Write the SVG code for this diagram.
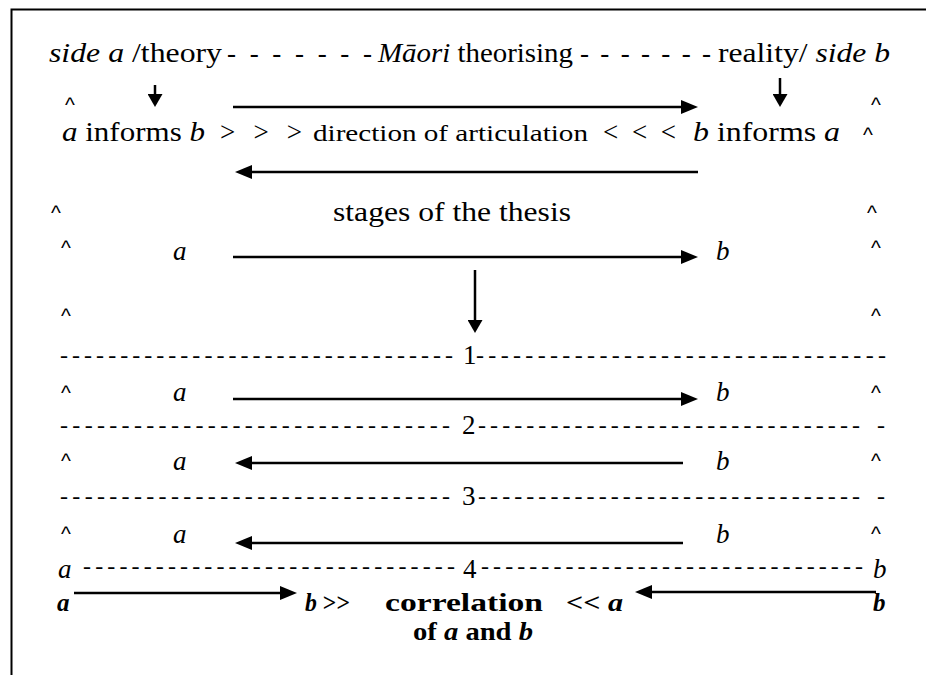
<svg xmlns="http://www.w3.org/2000/svg" width="926" height="675" viewBox="0 0 926 675">
<style>
text{font-family:"Liberation Serif",Tinos,"Times New Roman",Times,"Nimbus Roman",FreeSerif,serif;font-size:27px;fill:#000}
.i{font-style:italic}
.b{font-weight:bold;font-size:25px}
.sm{font-size:24px}
.d{font-size:24px}
.c{font-family:"Liberation Sans",Arimo,Arial,sans-serif;font-size:21px;text-anchor:middle}
.ln{stroke:#000;stroke-width:2.5;fill:none}
.frame{stroke:#000;stroke-width:2;fill:none}
</style>
<defs>
<marker id="ah" markerUnits="userSpaceOnUse" markerWidth="18" markerHeight="15" refX="7" refY="7" orient="auto">
<path d="M0,0 L17,7 L0,14 z" fill="#000"/>
</marker>
<marker id="av" markerUnits="userSpaceOnUse" markerWidth="14" markerHeight="15" refX="3" refY="7.5" orient="auto">
<path d="M0,0 L13,7.5 L0,15 z" fill="#000"/>
</marker>
</defs>
<rect width="926" height="675" fill="#fff"/>
<path class="frame" d="M11.5,675 V9.5 H926"/>

<g id="row-top">
<text x="49" y="62" textLength="173" lengthAdjust="spacingAndGlyphs"><tspan class="i">side a</tspan> /theory</text>
<text x="227" y="62" textLength="145" lengthAdjust="spacing">- - - - - - -</text>
<text x="378" y="62" textLength="195" lengthAdjust="spacingAndGlyphs"><tspan class="i">Māori</tspan> theorising</text>
<text x="580" y="62" textLength="131" lengthAdjust="spacing">- - - - - - -</text>
<text x="718" y="62" textLength="172" lengthAdjust="spacingAndGlyphs">reality/ <tspan class="i">side b</tspan></text>
</g>

<g id="carets">
<text class="c" x="70" y="112">^</text><text class="c" x="876" y="112">^</text>
<text class="c" x="868" y="142">^</text>
<text class="c" x="56" y="220">^</text><text class="c" x="872" y="220">^</text>
<text class="c" x="66" y="255">^</text><text class="c" x="876" y="255">^</text>
<text class="c" x="66" y="323">^</text><text class="c" x="876" y="323">^</text>
<text class="c" x="66" y="400">^</text><text class="c" x="876" y="400">^</text>
<text class="c" x="66" y="468">^</text><text class="c" x="876" y="468">^</text>
<text class="c" x="66" y="541">^</text><text class="c" x="876" y="541">^</text>
</g>

<g id="row-articulation">
<text x="62" y="141" textLength="143" lengthAdjust="spacingAndGlyphs"><tspan class="i">a</tspan> informs <tspan class="i">b</tspan></text>
<text x="220" y="141" textLength="82" lengthAdjust="spacing">&gt; &gt; &gt;</text>
<text class="sm" x="313" y="141" textLength="275" lengthAdjust="spacingAndGlyphs">direction of  articulation</text>
<text x="603" y="141" textLength="73" lengthAdjust="spacing">&lt; &lt; &lt;</text>
<text x="693" y="141" textLength="147" lengthAdjust="spacingAndGlyphs"><tspan class="i">b</tspan> informs <tspan class="i">a</tspan></text>
</g>

<g id="stages">
<text x="333" y="221" textLength="238" lengthAdjust="spacingAndGlyphs">stages of the thesis</text>
</g>

<g id="stage-0">
<text class="i" x="173" y="260">a</text>
<text class="i" x="716" y="260">b</text>
</g>

<g id="sep-1">
<text class="d" x="60" y="363" textLength="393" lengthAdjust="spacing">- - - - - - - - - - - - - - - - - - - - - - - - - - - - - - - - -</text>
<text x="463" y="364">1</text>
<text class="d" x="476" y="363" textLength="410" lengthAdjust="spacing">- - - - - - - - - - - - - - - - - - - - - - - - -- - - - - - - - -</text>
</g>

<g id="stage-1">
<text class="i" x="173" y="401">a</text>
<text class="i" x="716" y="401">b</text>
</g>

<g id="sep-2">
<text class="d" x="60" y="433" textLength="390" lengthAdjust="spacing">- - - - - - - - - - - - - - - - - - - - - - - - - - - - - - - -</text>
<text x="462" y="434">2</text>
<text class="d" x="478" y="433" textLength="382" lengthAdjust="spacing">- - - - - - - - - - - - - - - - - - - - - - - - - - - - - - - -</text>
<text class="d" x="877" y="433">-</text>
</g>

<g id="stage-2">
<text class="i" x="173" y="470">a</text>
<text class="i" x="716" y="470">b</text>
</g>

<g id="sep-3">
<text class="d" x="60" y="504" textLength="390" lengthAdjust="spacing">- - - - - - - - - - - - - - - - - - - - - - - - - - - - - - - -</text>
<text x="462" y="505">3</text>
<text class="d" x="478" y="504" textLength="382" lengthAdjust="spacing">- - - - - - - - - - - - - - - - - - - - - - - - - - - - - - - -</text>
<text class="d" x="877" y="504">-</text>
</g>

<g id="stage-3">
<text class="i" x="173" y="543">a</text>
<text class="i" x="716" y="543">b</text>
</g>

<g id="sep-4">
<text class="i" x="58" y="578">a</text>
<text class="d" x="83" y="574" textLength="372" lengthAdjust="spacing">- - - - - - - - - - - - - - - - - - - - - - - - - - - - - - -</text>
<text x="463" y="578">4</text>
<text class="d" x="481" y="574" textLength="382" lengthAdjust="spacing">- - - - - - - - - - - - - - - - - - - - - - - - - - - - - - - -</text>
<text class="i" x="873" y="578">b</text>
</g>

<g id="correlation">
<text class="b i" x="57" y="611">a</text>
<text class="b" x="305" y="611" textLength="45" lengthAdjust="spacingAndGlyphs"><tspan class="i">b</tspan> &gt;&gt;</text>
<text class="b" x="385" y="611" textLength="158" lengthAdjust="spacingAndGlyphs">correlation</text>
<text class="b" x="566" y="611" textLength="57" lengthAdjust="spacingAndGlyphs">&lt;&lt; <tspan class="i">a</tspan></text>
<text class="b i" x="873" y="611">b</text>
<text class="b" x="413" y="640" textLength="120" lengthAdjust="spacingAndGlyphs">of <tspan class="i">a</tspan> and <tspan class="i">b</tspan></text>
</g>

<g id="connectors">
<line class="ln" x1="155" y1="85" x2="155" y2="97" marker-end="url(#av)"/>
<line class="ln" x1="780" y1="78" x2="780" y2="97" marker-end="url(#av)"/>
<line class="ln" x1="233" y1="107" x2="688" y2="107" marker-end="url(#ah)"/>
<line class="ln" x1="698" y1="172" x2="245" y2="172" marker-end="url(#ah)"/>
<line class="ln" x1="233" y1="257" x2="688" y2="257" marker-end="url(#ah)"/>
<line class="ln" x1="475" y1="270" x2="475" y2="323" marker-end="url(#av)"/>
<line class="ln" x1="233" y1="399" x2="688" y2="399" marker-end="url(#ah)"/>
<line class="ln" x1="683" y1="463" x2="245" y2="463" marker-end="url(#ah)"/>
<line class="ln" x1="683" y1="543" x2="245" y2="543" marker-end="url(#ah)"/>
<line class="ln" x1="74" y1="593" x2="287" y2="593" marker-end="url(#ah)"/>
<line class="ln" x1="876" y1="592" x2="645" y2="592" marker-end="url(#ah)"/>
</g>
</svg>
